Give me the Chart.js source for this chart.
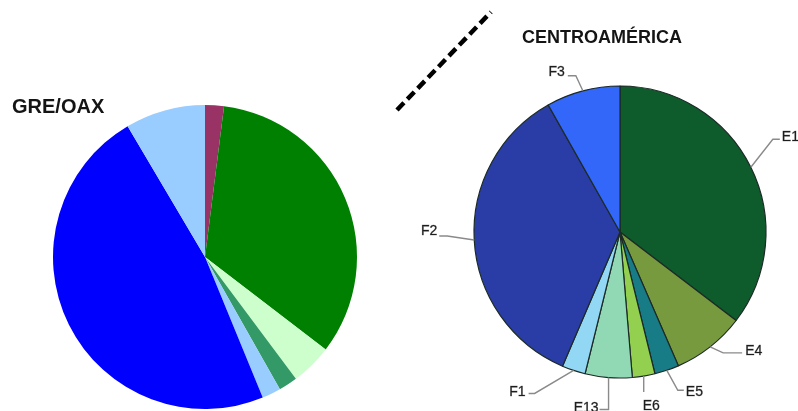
<!DOCTYPE html>
<html>
<head>
<meta charset="utf-8">
<script src="https://cdn.jsdelivr.net/npm/chart.js@4.4.1/dist/chart.umd.min.js"></script>
<style>
  html, body { margin: 0; padding: 0; background: #ffffff; }
  #stage { position: relative; width: 798px; height: 411px; overflow: hidden; background: #ffffff; }
  #stage canvas { position: absolute; left: 0; top: 0; }
  .title { position: absolute; font-family: "Liberation Sans", Arial, sans-serif; font-weight: bold; color: #141414; white-space: nowrap; }
  #t-left { left: 12px; top: 96px; font-size: 20px; line-height: 20px; }
  #t-right { left: 502px; top: 28px; width: 200px; text-align: center; font-size: 18px; line-height: 18px; }
  #divider { position: absolute; left: 0; top: 0; }
</style>
</head>
<body>
<div id="stage">
  <svg id="divider" width="798" height="411">
    <line x1="397" y1="110" x2="491" y2="12" stroke="#000" stroke-width="4.5" stroke-dasharray="10 5"/>
  </svg>
  <canvas id="pieLeft" width="798" height="411"></canvas>
  <canvas id="pieRight" width="798" height="411"></canvas>
  <div class="title" id="t-left">GRE/OAX</div>
  <div class="title" id="t-right">CENTROAMÉRICA</div>
</div>
<script>
// GRE/OAX shares (%), clockwise from 12 o'clock
const greLabels = ['M', 'E1', 'E4', 'E5', 'F1', 'F2', 'F3'];
const greValues = [2.0, 33.4, 4.4, 2.0, 2.0, 47.7, 8.5];
const greColors = ['#993366', '#008000', '#CCFFCC', '#339966', '#99CCFF', '#0000FF', '#99CCFF'];

// Centroamérica shares (%), clockwise from 12 o'clock
const caLabels = ['E1', 'E4', 'E5', 'E6', 'E13', 'F1', 'F2', 'F3'];
const caValues = [35.4, 8.1, 2.7, 2.5, 5.2, 2.6, 35.4, 8.2];
const caColors = ['#0E5B2C', '#789A3E', '#177C86', '#93D050', '#90D9B4', '#92D8F5', '#2A3DA6', '#3267FA'];

// Leader line geometry per label: elbow offset from the arc anchor,
// horizontal run after the elbow, text offset from the line end, alignment.
const leaderLayout = [
  { elbow: [22, -28], run: 7,  text: [2, 2],  align: 'left'  },  // E1
  { elbow: [13, 6],   run: 19, text: [3, 2],  align: 'left'  },  // E4
  { elbow: [11, 20],  run: 6,  text: [2, 6],  align: 'left'  },  // E5
  { elbow: [0, 16],   run: 0,  text: [-1, 18], align: 'left' },  // E6
  { elbow: [0, 32],   run: -9, text: [-1, 2], align: 'right' },  // E13
  { elbow: [-39, 23], run: -6, text: [-3, 3], align: 'right' },  // F1
  { elbow: [-27, -4], run: -8, text: [-2, -1], align: 'right' }, // F2
  { elbow: [-7, -15], run: -8, text: [-3, 0], align: 'right' }   // F3
];

const leaderLabels = {
  id: 'leaderLabels',
  afterDatasetsDraw(chart) {
    const ctx = chart.ctx;
    const meta = chart.getDatasetMeta(0);
    const labels = chart.data.labels;
    ctx.save();
    meta.data.forEach((arc, i) => {
      const p = arc.getProps(['x', 'y', 'startAngle', 'endAngle', 'outerRadius'], true);
      const mid = (p.startAngle + p.endAngle) / 2;
      const ax = p.x + Math.cos(mid) * p.outerRadius;
      const ay = p.y + Math.sin(mid) * p.outerRadius;
      const g = leaderLayout[i];
      const ex = ax + g.elbow[0], ey = ay + g.elbow[1];
      const lx = ex + g.run, ly = ey;
      ctx.beginPath();
      ctx.moveTo(ax, ay);
      ctx.lineTo(ex, ey);
      ctx.lineTo(lx, ly);
      ctx.strokeStyle = '#8a8a8a';
      ctx.lineWidth = 1.4;
      ctx.stroke();
      ctx.font = '14px "Liberation Sans", Arial, sans-serif';
      ctx.fillStyle = '#1e1e1e';
      ctx.strokeStyle = 'rgba(30,30,30,0.55)';
      ctx.lineWidth = 0.5;
      ctx.textAlign = g.align;
      ctx.textBaseline = 'alphabetic';
      const tx = lx + g.text[0], ty = ly + g.text[1];
      ctx.fillText(labels[i], tx, ty);
      ctx.strokeText(labels[i], tx, ty);
    });
    ctx.restore();
  }
};

const common = {
  responsive: false,
  devicePixelRatio: 1,
  animation: false,
  events: [],
  plugins: { legend: { display: false }, tooltip: { enabled: false }, title: { display: false } }
};

new Chart(document.getElementById('pieLeft'), {
  type: 'pie',
  data: {
    labels: greLabels,
    datasets: [{ data: greValues, backgroundColor: greColors, borderWidth: 0, hoverOffset: 0 }]
  },
  options: Object.assign({}, common, {
    radius: 152,
    layout: { padding: { left: 0, right: 388, top: 103, bottom: 0 } }
  })
});

new Chart(document.getElementById('pieRight'), {
  type: 'pie',
  data: {
    labels: caLabels,
    datasets: [{ data: caValues, backgroundColor: caColors, borderColor: '#1c2a26', borderWidth: 1.2, hoverOffset: 0 }]
  },
  options: Object.assign({}, common, {
    radius: 146,
    layout: { padding: { left: 442, right: 0, top: 53, bottom: 0 } }
  }),
  plugins: [leaderLabels]
});
</script>
</body>
</html>
